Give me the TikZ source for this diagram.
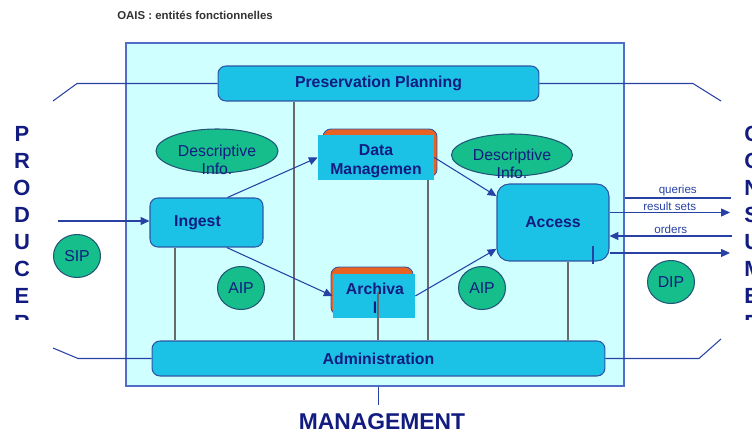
\documentclass[tikz,border=0pt]{standalone}
\usepackage{fontspec}
\setmainfont{Liberation Sans}
\usetikzlibrary{shapes.geometric, arrows.meta}

\definecolor{paleblue}{RGB}{208,255,255}
\definecolor{framecol}{RGB}{80,110,200}
\definecolor{boxcol}{RGB}{28,194,230}
\definecolor{boxline}{RGB}{45,85,165}
\definecolor{backcol}{RGB}{232,98,36}
\definecolor{infocol}{RGB}{22,190,140}
\definecolor{infoline}{RGB}{35,85,120}
\definecolor{navy}{RGB}{18,28,128}
\definecolor{linkgray}{RGB}{105,105,105}
\definecolor{wirecol}{RGB}{40,65,165}
\definecolor{titlegray}{RGB}{50,50,50}

\begin{document}
\begin{tikzpicture}[x=0.02cm, y=-0.02cm,
  frame/.style={draw=framecol, fill=paleblue, line width=0.7pt, minimum width=9.96cm, minimum height=6.86cm, inner sep=0pt},
  box/.style={draw=boxline, fill=boxcol, line width=0.6pt, rounded corners=4.5pt, inner sep=0pt, text=navy, font=\fontsize{9}{10.8}\selectfont\bfseries},
  back/.style={draw=boxline, fill=backcol, line width=0.5pt, rounded corners=4.5pt, inner sep=0pt},
  front/.style={fill=boxcol, inner sep=0pt},
  boxtext/.style={align=center, text=navy, font=\fontsize{9}{10.8}\selectfont\bfseries, inner sep=0pt},
  info/.style={ellipse, draw=infoline, fill=infocol, line width=0.6pt, inner sep=0pt},
  infotext/.style={align=center, text=navy, font=\fontsize{9}{10.2}\selectfont, inner sep=0pt},
  pkg/.style={info, minimum width=0.94cm, minimum height=0.86cm, text=navy, font=\fontsize{9}{10}\selectfont},
  link/.style={draw=linkgray, line width=1.7pt},
  wire/.style={draw=wirecol, line width=0.6pt},
  flow/.style={wire, -{Triangle[length=5pt, width=4.5pt]}},
  small/.style={font=\fontsize{6.6}{8}\selectfont, text=wirecol, inner sep=1pt},
  side/.style={text=navy, font=\fontsize{12.5}{15.36}\selectfont\bfseries, inner sep=0pt},
]
\useasboundingbox (0,0) rectangle (752,433);

\node[font=\fontsize{6.5}{8}\selectfont\bfseries, text=titlegray] (title) at (195,15) {OAIS : entités fonctionnelles};

% the archive
\node[frame] (oais) at (375,214.5) {};

\node[box, minimum width=6.42cm, minimum height=0.7cm] (pp) at (378.5,83.5) {Preservation Planning};
\node[box, minimum width=9.06cm, minimum height=0.7cm] (adm) at (378.5,358.5) {Administration};
\node[box, minimum width=2.26cm, minimum height=0.98cm] (ing) at (206.5,222.5) {Ingest\hspace*{0.36cm}};
\node[box, rounded corners=7pt, minimum width=2.24cm, minimum height=1.54cm] (acc) at (553,222.5) {Access};

\node[back, minimum width=2.28cm, minimum height=0.96cm] (dmback) at (380,153) {};
\node[front, minimum width=2.32cm, minimum height=0.9cm] (dm) at (376,157.5) {};
\begin{scope}
  \clip (dm.south west) rectangle (dm.north east);
  \node[boxtext] (dmtext) at (376,161) {Data\\Managemen};
\end{scope}

\node[back, minimum width=1.64cm, minimum height=0.96cm] (arcback) at (372,291) {};
\node[front, minimum width=1.64cm, minimum height=0.88cm] (arc) at (374,296) {};
\begin{scope}
  \clip (arc.south west) rectangle (arc.north east);
  \node[boxtext] (arctext) at (375,298) {Archiva\\l};
\end{scope}

\node[info, minimum width=2.44cm, minimum height=0.88cm] (di1) at (217,151) {};
\node[infotext] (di1text) at (217,160) {Descriptive\\Info.};
\node[info, minimum width=2.42cm, minimum height=0.84cm] (di2) at (512,155) {};
\node[infotext] (di2text) at (512,164) {Descriptive\\Info.};

\node[pkg] (sip) at (77,256) {SIP};
\node[pkg] (aip1) at (241,288) {AIP};
\node[pkg] (aip2) at (482,288) {AIP};
\node[pkg] (dip) at (671,282) {DIP};

% links to administration
\coordinate (arcin) at (378,292);
\draw[link] (ing.south -| 175,0) -- (adm.north -| 175,0);
\draw[link] (pp.south -| 294,0) -- (adm.north -| 294,0);
\draw[link] (dm.south -| 428,0) -- (adm.north -| 428,0);
\draw[link] (arcin) -- (adm.north -| arcin);
\draw[link] (acc.south -| 568,0) -- (adm.north -| 568,0);

% flows
\coordinate (sipin) at (58,221);
\draw[flow] (sipin) -- (ing.west |- sipin);
\draw[flow] (ing.50) -- (dm.west);
\draw[flow] (ing.-51) -- (arc.west);
\draw[flow] (dm.east) -- (acc.155);
\draw[flow] (arc.east) -- (acc.205);

\coordinate (qend) at (731,198);
\coordinate (rend) at (730,212.5);
\coordinate (oend) at (732,236);
\coordinate (dend) at (730,253);
\draw[wire] (oais.east |- qend) -- node[small, above] (qtxt) {queries} (qend);
\draw[flow] (acc.east |- rend) -- node[small, above] (rtxt) {result sets} (rend);
\draw[flow] (oend) -- node[small, above] (otxt) {orders} (acc.east |- oend);
\draw[flow] (acc.east |- dend) -- (dend);
\draw[wire] (593,246) -- (593,264);

% side brackets
\draw[wire] (pp.west) -- (pp.west -| 77,0) -- (53,101);
\draw[wire] (pp.east) -- (pp.east -| 693,0) -- (721,101);
\draw[wire] (adm.west) -- (adm.west -| 78,0) -- (53,348);
\draw[wire] (adm.east) -- (adm.east -| 699,0) -- (721,339);

\coordinate (mgtend) at (378.5,405);
\draw[wire] (adm.south |- oais.south) -- (mgtend);
\node[side, font=\fontsize{13}{15}\selectfont\bfseries] (mgt) at (382,422) {MANAGEMENT};

\begin{scope}
  \clip (0,110) rectangle (752,319);
  \node[side, align=center, anchor=north] (producer) at (22,126) {P\\R\\O\\D\\U\\C\\E\\R};
  \node[side, align=left, anchor=north west] (consumer) at (744,126) {C\\O\\N\\S\\U\\M\\E\\R};
\end{scope}
\end{tikzpicture}
\end{document}
